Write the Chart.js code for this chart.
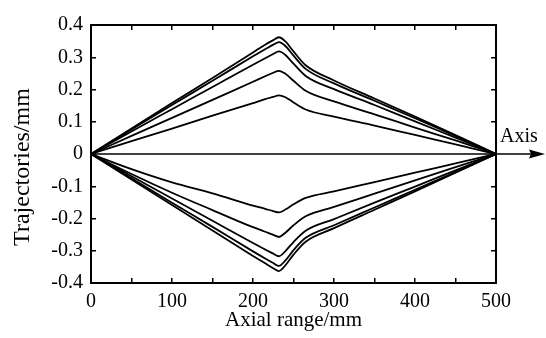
<!DOCTYPE html>
<html>
<head>
<meta charset="utf-8">
<script src="https://cdn.jsdelivr.net/npm/chart.js@4"></script>
<style>
  html, body { margin: 0; padding: 0; background: #fff; }
  #wrap { width: 546px; height: 338px; }
</style>
</head>
<body>
<div id="wrap"><canvas id="traj"></canvas></div>
<script>
// axial positions (mm)
const axial = [0, 50, 100, 150, 200, 215, 225, 232, 240, 250, 265, 300, 350, 400, 450, 500];

// upper trajectories (mm)
const up1 = [0, 0.079, 0.158, 0.236, 0.315, 0.339, 0.353, 0.362, 0.349, 0.318, 0.275, 0.228, 0.172, 0.116, 0.059, 0];
const up2 = [0, 0.076, 0.152, 0.227, 0.303, 0.325, 0.339, 0.347, 0.335, 0.305, 0.264, 0.219, 0.165, 0.111, 0.056, 0];
const up3 = [0, 0.070, 0.139, 0.208, 0.277, 0.297, 0.310, 0.318, 0.307, 0.280, 0.242, 0.201, 0.152, 0.101, 0.051, 0];
const up4 = [0, 0.056, 0.112, 0.168, 0.224, 0.241, 0.252, 0.258, 0.249, 0.227, 0.196, 0.163, 0.123, 0.082, 0.042, 0];
const up5 = [0, 0.040, 0.079, 0.119, 0.158, 0.170, 0.177, 0.182, 0.176, 0.160, 0.138, 0.116, 0.088, 0.059, 0.030, 0];

// lower trajectories (mm)
const low1 = [0, -0.079, -0.158, -0.237, -0.316, -0.339, -0.354, -0.363, -0.345, -0.312, -0.272, -0.230, -0.173, -0.116, -0.058, 0];
const low2 = [0, -0.075, -0.151, -0.226, -0.302, -0.324, -0.338, -0.347, -0.330, -0.298, -0.260, -0.221, -0.166, -0.111, -0.056, 0];
const low3 = [0, -0.069, -0.138, -0.207, -0.276, -0.296, -0.309, -0.317, -0.301, -0.273, -0.238, -0.202, -0.151, -0.101, -0.051, 0];
const low4 = [0, -0.062, -0.120, -0.174, -0.227, -0.241, -0.251, -0.257, -0.244, -0.221, -0.193, -0.164, -0.123, -0.082, -0.041, 0];
const low5 = [0, -0.047, -0.088, -0.122, -0.160, -0.170, -0.177, -0.181, -0.172, -0.156, -0.136, -0.116, -0.087, -0.058, -0.029, 0];

const xTicks = [0, 100, 200, 300, 400, 500];
const yTicks = [-0.4, -0.3, -0.2, -0.1, 0, 0.1, 0.2, 0.3, 0.4];

const serif = "'Liberation Serif', 'DejaVu Serif', serif";
const allSeries = [up1, up2, up3, up4, up5, low1, low2, low3, low4, low5];

const datasets = allSeries.map(vals => ({
    data: axial.map((x, i) => ({ x: x, y: vals[i] })),
    borderColor: '#000',
    borderWidth: 1.8,
    pointRadius: 0,
    fill: false,
    cubicInterpolationMode: 'monotone'
}));

// zero line with arrow, "Axis" label and y title
const extras = {
    id: 'extras',
    afterDatasetsDraw(chart) {
        const ctx = chart.ctx;
        const y0 = chart.scales.y.getPixelForValue(0);
        const left = chart.chartArea.left;
        ctx.save();
        ctx.strokeStyle = '#000';
        ctx.lineWidth = 1.3;
        ctx.beginPath();
        ctx.moveTo(left, y0);
        ctx.lineTo(534, y0);
        ctx.stroke();
        ctx.fillStyle = '#000';
        ctx.beginPath();
        ctx.moveTo(545, y0);
        ctx.lineTo(529, y0 - 4.5);
        ctx.lineTo(531, y0);
        ctx.lineTo(529, y0 + 4.5);
        ctx.closePath();
        ctx.fill();
        ctx.font = '20px ' + serif;
        ctx.textAlign = 'left';
        ctx.textBaseline = 'alphabetic';
        ctx.fillText('Axis', 500, 142);
        ctx.translate(23, 167);
        ctx.rotate(-Math.PI / 2);
        ctx.textAlign = 'center';
        ctx.textBaseline = 'middle';
        ctx.font = '24px ' + serif;
        ctx.fillText('Trajectories/mm', 0, 0);
        ctx.restore();
    }
};

const gridIn = {
    drawOnChartArea: false,
    drawTicks: true,
    tickLength: -5,
    color: '#000',
    lineWidth: 1.5
};
const border = { display: true, color: '#000', width: 2 };

new Chart(document.getElementById('traj'), {
    type: 'line',
    data: { datasets: datasets },
    options: {
        responsive: true,
        maintainAspectRatio: false,
        animation: false,
        layout: { padding: { top: 19, right: 50, left: 0, bottom: 0 } },
        plugins: { legend: { display: false }, tooltip: { enabled: false } },
        scales: {
            x: {
                type: 'linear', position: 'bottom', min: 0, max: 500,
                grid: gridIn, border: border,
                ticks: {
                    stepSize: 50, autoSkip: false, maxRotation: 0, padding: 12,
                    color: '#000', font: { family: serif, size: 20 },
                    callback: v => xTicks.includes(v) ? String(v) : ''
                },
                title: {
                    display: true, text: 'Axial range/mm', color: '#000',
                    font: { family: serif, size: 21 }, padding: { top: 0, bottom: 5 }
                },
                afterFit: s => { s.height = 55; }
            },
            xTop: {
                type: 'linear', position: 'top', min: 0, max: 500,
                grid: gridIn, border: border,
                ticks: { stepSize: 50, autoSkip: false, display: false },
                afterFit: s => { s.height = 0; }
            },
            y: {
                type: 'linear', position: 'left', min: -0.4, max: 0.4,
                grid: gridIn, border: border,
                ticks: {
                    stepSize: 0.1, autoSkip: false, padding: 13,
                    color: '#000', font: { family: serif, size: 20 },
                    callback: v => {
                        const r = Math.round(v * 10) / 10;
                        return yTicks.includes(r) ? (r === 0 ? '0' : r.toFixed(1)) : '';
                    }
                },
                afterFit: s => { s.width = 91; }
            },
            yRight: {
                type: 'linear', position: 'right', min: -0.4, max: 0.4,
                grid: gridIn, border: border,
                ticks: { stepSize: 0.1, autoSkip: false, display: false },
                afterFit: s => { s.width = 0; }
            }
        }
    },
    plugins: [extras]
});
</script>
</body>
</html>
